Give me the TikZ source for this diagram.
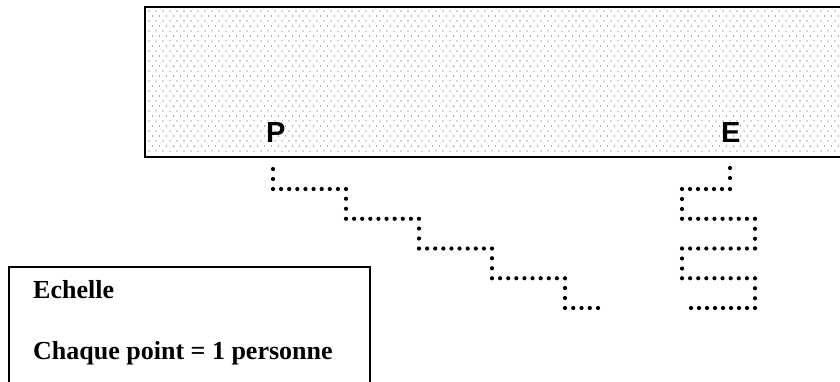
\documentclass[tikz,border=0pt]{standalone}
\usepackage{fontspec}
\setmainfont{Liberation Serif}
\newfontfamily\arialfont{Liberation Sans}
\begin{document}
\begin{tikzpicture}[x=1pt,y=-1pt,
  frame/.style={line width=1.5pt,draw=black},
  bigletter/.style={anchor=base west,inner sep=0pt,font=\arialfont\bfseries\fontsize{29}{30}\selectfont},
  legendtext/.style={anchor=base west,inner sep=0pt,font=\bfseries\fontsize{26}{28}\selectfont},
  persondot/.style={fill=black},
  bgdot/.style={fill=black!65}]
\useasboundingbox (0,0) rectangle (840,382);
% dotted area
\begin{scope}
  \clip (145,7) rectangle (842,157);
  \foreach \r in {0,...,28} {
    \pgfmathsetmacro\yy{11+5*\r}
    \pgfmathsetmacro\off{mod(\r,2)*3.5}
    \foreach \c in {0,...,99} {
      \fill[bgdot] (149+\off+7*\c,\yy) circle (0.65pt);
    }
  }
\end{scope}
\draw[frame] (145,7) rectangle (843,157);
% letters
\node[bigletter] (P) at (266,143) {P};
\node[bigletter] (E) at (721,143) {E};
% staircase from P
\foreach \i in {0,...,4} {
  \pgfmathsetmacro\xx{273+73*\i}
  \pgfmathsetmacro\yy{189+29.75*\i}
  \fill[persondot] (\xx,\yy-20) circle (2.1pt);
  \fill[persondot] (\xx,\yy-10) circle (2.1pt);
}
\foreach \i in {0,...,3} {
  \pgfmathsetmacro\xx{273+73*\i}
  \pgfmathsetmacro\yy{189+29.75*\i}
  \foreach \k in {0,...,9} {
    \fill[persondot] (\xx+8.111*\k,\yy) circle (2.1pt);
  }
}
\foreach \k in {0,...,4} {
  \fill[persondot] (565+8.25*\k,308) circle (2.1pt);
}
% serpentine from E
\fill[persondot] (730,168) circle (2.1pt);
\fill[persondot] (730,178) circle (2.1pt);
\foreach \k in {0,...,6} {\fill[persondot] (682+8*\k,189) circle (2.1pt);}
\fill[persondot] (682,199) circle (2.1pt);
\fill[persondot] (682,209) circle (2.1pt);
\foreach \k in {0,...,9} {\fill[persondot] (682+8.111*\k,218.75) circle (2.1pt);}
\fill[persondot] (755,228.75) circle (2.1pt);
\fill[persondot] (755,238.75) circle (2.1pt);
\foreach \k in {0,...,9} {\fill[persondot] (682+8.111*\k,248.5) circle (2.1pt);}
\fill[persondot] (682,258.5) circle (2.1pt);
\fill[persondot] (682,268.5) circle (2.1pt);
\foreach \k in {0,...,9} {\fill[persondot] (682+8.111*\k,278.25) circle (2.1pt);}
\fill[persondot] (755,288.25) circle (2.1pt);
\fill[persondot] (755,298.25) circle (2.1pt);
\foreach \k in {0,...,8} {\fill[persondot] (691+8*\k,308) circle (2.1pt);}
% legend box
\draw[frame] (9,385) -- (9,267) -- (370,267) -- (370,385);
\node[legendtext] (ech) at (33,298) {Echelle};
\node[legendtext] (chq) at (33,359) {Chaque point = 1 personne};
\end{tikzpicture}
\end{document}
